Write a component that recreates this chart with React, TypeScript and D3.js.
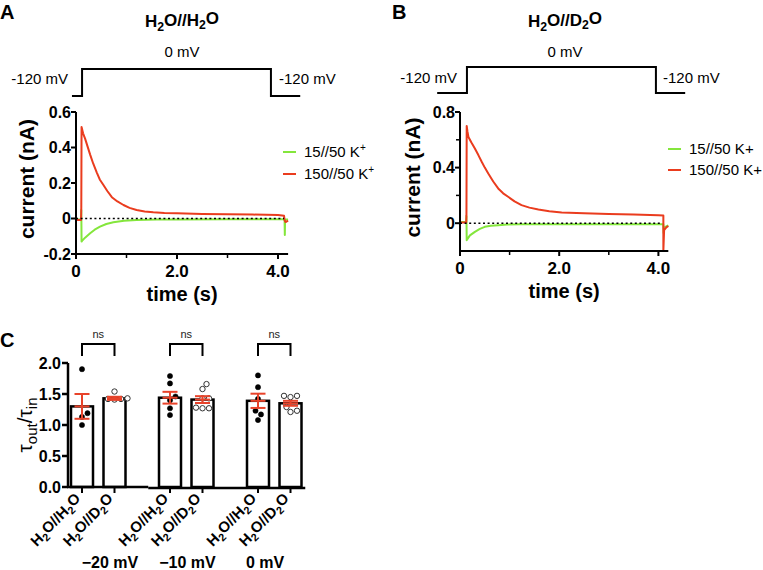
import React from 'react';
import * as d3 from 'd3';

const FONT = "'Liberation Sans', Arial, Helvetica, sans-serif";
const RED = '#ea3c1e';
const GREEN = '#84e63c';
const ERR_RED = '#e8432a';

// ---------- Panel A data (time s, current nA) ----------
const timeA_red = [0, 0.1, 0.105, 0.11, 0.14, 0.18, 0.23, 0.28, 0.34, 0.41, 0.47, 0.54, 0.62, 0.71, 0.82, 0.94, 1.06, 1.2, 1.36, 1.53, 1.75, 2.0, 2.5, 3.0, 3.5, 4.0, 4.12, 4.13, 4.15, 4.2];
const currA_red = [-0.008, -0.008, 0.06, 0.515, 0.48, 0.45, 0.405, 0.36, 0.31, 0.26, 0.22, 0.19, 0.155, 0.12, 0.096, 0.076, 0.06, 0.048, 0.04, 0.035, 0.031, 0.029, 0.026, 0.024, 0.022, 0.02, 0.015, -0.01, -0.02, -0.012];
const timeA_green = [0, 0.1, 0.105, 0.11, 0.12, 0.18, 0.28, 0.37, 0.475, 0.6, 0.74, 0.95, 1.2, 1.6, 2.0, 3.0, 4.0, 4.13, 4.135, 4.14, 4.2];
const currA_green = [-0.006, -0.006, 0.048, -0.13, -0.126, -0.108, -0.083, -0.063, -0.046, -0.031, -0.021, -0.013, -0.008, -0.006, -0.005, -0.004, -0.004, -0.004, -0.093, -0.006, -0.005];

// ---------- Panel B data ----------
const timeB_red = [0, 0.125, 0.13, 0.135, 0.15, 0.17, 0.23, 0.3, 0.37, 0.44, 0.5, 0.57, 0.67, 0.77, 0.87, 0.97, 1.1, 1.24, 1.4, 1.58, 1.8, 2.05, 2.5, 3.0, 3.5, 4.0, 4.1, 4.1, 4.115, 4.16, 4.2];
const currB_red = [0.005, 0.005, 0.058, 0.7, 0.66, 0.62, 0.58, 0.537, 0.49, 0.44, 0.4, 0.357, 0.3, 0.25, 0.215, 0.19, 0.157, 0.13, 0.112, 0.098, 0.086, 0.077, 0.071, 0.066, 0.062, 0.058, 0.056, -0.2, -0.05, -0.03, -0.02];
const timeB_green = [0, 0.125, 0.13, 0.135, 0.145, 0.2, 0.3, 0.4, 0.5, 0.62, 0.77, 0.95, 1.2, 2.0, 3.0, 4.0, 4.1, 4.105, 4.12, 4.2];
const currB_green = [0.008, 0.008, 0.05, -0.122, -0.116, -0.088, -0.062, -0.041, -0.026, -0.018, -0.014, -0.01, -0.008, -0.007, -0.007, -0.007, -0.007, -0.07, -0.03, -0.015];

// Voltage protocols (schematic time s, mV)
const protoA_time = [-0.08, 0.12, 0.12, 3.86, 3.86, 4.44];
const protoB_time = [-0.46, 0.14, 0.14, 3.95, 3.95, 4.54];
const proto_mV = [-120, -120, 0, 0, -120, -120];

// Axis ticks
const xTicksMajor = [0, 2, 4];
const xTickLabels = ['0', '2.0', '4.0'];
const xTicksMinor = [1, 3];
const yTicksA = [-0.2, 0, 0.2, 0.4, 0.6];
const yTickLabelsA = ['-0.2', '0', '0.2', '0.4', '0.6'];
const yTicksB = [0, 0.4, 0.8];
const yTickLabelsB = ['0', '0.4', '0.8'];
const yTicksMinorB = [0.2, 0.6];
const legendLabelsA = ['15//50 K', '150//50 K'];
const legendSupA = ['+', '+'];
const legendLabelsB = ['15//50 K+', '150//50 K+'];

// ---------- Panel C data ----------
const groups = ['−20 mV', '−10 mV', '0 mV'];
const conditions = ['H2O//H2O', 'H2O//D2O'];
const barMeans = [1.3, 1.43, 1.44, 1.41, 1.39, 1.35];
const barSEM = [0.2, 0.025, 0.095, 0.055, 0.115, 0.04];
const pts_m20_H2O = [1.9, 1.19, 1.13, 1.0];
const pts_m20_D2O = [1.54, 1.41, 1.42, 1.42, 1.43];
const pts_m10_H2O = [1.79, 1.67, 1.4, 1.46, 1.27, 1.16];
const pts_m10_D2O = [1.58, 1.66, 1.43, 1.43, 1.27, 1.28, 1.27];
const pts_0_H2O = [1.8, 1.61, 1.42, 1.23, 1.17, 1.08];
const pts_0_D2O = [1.47, 1.45, 1.47, 1.21, 1.23, 1.29];
const allPoints = [pts_m20_H2O, pts_m20_D2O, pts_m10_H2O, pts_m10_D2O, pts_0_H2O, pts_0_D2O];
const yTicksC = [0, 0.5, 1.0, 1.5, 2.0];
const yTickLabelsC = ['0.0', '0.5', '1.0', '1.5', '2.0'];
const sigLabels = ['ns', 'ns', 'ns'];

function H2Olabel({ second }: { second: string }) {
  return (
    <>
      <tspan>H</tspan>
      <tspan fontSize="0.72em" dy="0.3em">2</tspan>
      <tspan dy="-0.3em">O//{second}</tspan>
      <tspan fontSize="0.72em" dy="0.3em">2</tspan>
      <tspan dy="-0.3em">O</tspan>
    </>
  );
}

type TraceProps = {
  x0: number; x1: number; yTop: number; yBot: number; yDomain: [number, number];
  series: { t: number[]; v: number[]; color: string }[];
  yTicks: number[]; yTickLabels: string[]; yMinor: number[];
  zeroEnd: number;
  proto: { t: number[]; yLow: number; yHigh: number };
  title: string; titleX: number;
  leftLabelX: number; rightLabelX: number; protoLabelY: number;
  legendX: number; legendY: number[]; legend: string[]; legendSup: string[] | null;
  letter: string; letterX: number; yLabelX: number;
};

function TracePanel(p: TraceProps) {
  const x = d3.scaleLinear().domain([0, 4.2]).range([p.x0, p.x1]);
  const y = d3.scaleLinear().domain(p.yDomain).range([p.yBot, p.yTop]);
  const vy = d3.scaleLinear().domain([-120, 0]).range([p.proto.yLow, p.proto.yHigh]);
  const line = d3.line<[number, number]>().x((d) => x(d[0])).y((d) => y(d[1]));
  const protoLine = d3.line<[number, number]>().x((d) => x(d[0])).y((d) => vy(d[1]));
  const protoPts = p.proto.t.map((t, i) => [t, proto_mV[i]] as [number, number]);
  return (
    <g fontFamily={FONT}>
      <text x={p.letterX} y={19} fontSize={20} fontWeight="bold">{p.letter}</text>
      <text x={p.titleX} y={27} fontSize={17} fontWeight="bold" textAnchor="middle">
        <H2Olabel second={p.title} />
      </text>
      <text x={p.titleX} y={57} fontSize={15} textAnchor="middle">0 mV</text>
      <path d={protoLine(protoPts) || ''} fill="none" stroke="#000" strokeWidth={2} />
      <text x={p.leftLabelX} y={p.protoLabelY} fontSize={15} textAnchor="end">-120 mV</text>
      <text x={p.rightLabelX} y={p.protoLabelY} fontSize={15}>-120 mV</text>
      {p.series.map((s, i) => (
        <path key={i} d={line(s.t.map((t, j) => [t, s.v[j]] as [number, number])) || ''}
          fill="none" stroke={s.color} strokeWidth={2} strokeLinejoin="round" />
      ))}
      <line x1={x(0)} x2={x(p.zeroEnd)} y1={y(0)} y2={y(0)} stroke="#000" strokeWidth={1.6} strokeDasharray="2 2.6" />
      <line x1={x(0)} x2={x(0)} y1={p.yTop} y2={p.yBot + 1} stroke="#000" strokeWidth={2} />
      <line x1={x(0) - 1} x2={x(4.2)} y1={p.yBot} y2={p.yBot} stroke="#000" strokeWidth={2} />
      {p.yTicks.map((t, i) => (
        <g key={'yt' + i}>
          <line x1={x(0) - 5} x2={x(0)} y1={y(t)} y2={y(t)} stroke="#000" strokeWidth={2} />
          <text x={x(0) - 5} y={y(t) + 5.5} fontSize={16} fontWeight="bold" textAnchor="end">{p.yTickLabels[i]}</text>
        </g>
      ))}
      {p.yMinor.map((t, i) => (
        <line key={'ym' + i} x1={x(0) - 4} x2={x(0)} y1={y(t)} y2={y(t)} stroke="#000" strokeWidth={1.5} />
      ))}
      {xTicksMajor.map((t, i) => (
        <g key={'xt' + i}>
          <line x1={x(t)} x2={x(t)} y1={p.yBot} y2={p.yBot + 5} stroke="#000" strokeWidth={2} />
          <text x={x(t)} y={p.yBot + 23} fontSize={17} fontWeight="bold" textAnchor="middle">{xTickLabels[i]}</text>
        </g>
      ))}
      {xTicksMinor.map((t, i) => (
        <line key={'xm' + i} x1={x(t)} x2={x(t)} y1={p.yBot} y2={p.yBot + 4} stroke="#000" strokeWidth={1.5} />
      ))}
      <text x={(x(0) + x(4.2)) / 2} y={p.yBot + 47} fontSize={20} fontWeight="bold" textAnchor="middle">time (s)</text>
      <text transform={`translate(${p.yLabelX},${(p.yTop + p.yBot) / 2 - 4}) rotate(-90)`} fontSize={21} fontWeight="bold" textAnchor="middle">current (nA)</text>
      {p.series.map((s, i) => (
        <g key={'lg' + i}>
          <line x1={p.legendX} x2={p.legendX + 13} y1={p.legendY[i]} y2={p.legendY[i]} stroke={s.color} strokeWidth={2} />
          <text x={p.legendX + 21} y={p.legendY[i] + 5} fontSize={15}>
            {p.legend[i]}
            {p.legendSup && <tspan fontSize={10} dy={-6}>{p.legendSup[i]}</tspan>}
          </text>
        </g>
      ))}
    </g>
  );
}

function swarm(values: number[], y: (v: number) => number, r: number): number[] {
  const placed: { x: number; y: number }[] = [];
  const order = values.map((_, i) => i).sort((a, b) => values[a] - values[b]);
  const offsets = new Array(values.length).fill(0);
  const minD = 2 * r + 1.3;
  for (const i of order) {
    const yi = y(values[i]);
    let best = 0;
    for (let k = 0; k < 400; k++) {
      const cand = k === 0 ? 0 : (k % 2 === 1 ? 1 : -1) * Math.ceil(k / 2) * 0.5;
      if (placed.every((q) => Math.hypot(q.x - cand, q.y - yi) >= minD)) { best = cand; break; }
    }
    placed.push({ x: best, y: yi });
    offsets[i] = best;
  }
  return offsets;
}

function PanelC() {
  const y = d3.scaleLinear().domain([0, 2]).range([487, 363]);
  const gx = d3.scalePoint<string>().domain(groups).range([98.25, 274.25]);
  const sub = d3.scalePoint<string>().domain(conditions).range([-16.25, 16.25]);
  const labelX = d3.scalePoint<string>().domain(groups).range([110, 265]);
  const bars = groups.flatMap((g, gi) => conditions.map((c, ci) => ({ g, c, i: gi * 2 + ci, cx: (gx(g) as number) + (sub(c) as number) })));
  const bw = 22;
  const r = 2.5;
  return (
    <g fontFamily={FONT}>
      <text x={0} y={347} fontSize={20} fontWeight="bold">C</text>
      {bars.map((b) => (
        <rect key={'b' + b.i} x={b.cx - bw / 2} y={y(barMeans[b.i])} width={bw} height={y(0) - y(barMeans[b.i])}
          fill="#fff" stroke="#000" strokeWidth={2.5} />
      ))}
      {bars.map((b) => {
        const vals = allPoints[b.i];
        const off = swarm(vals, y, r);
        const open = b.c === conditions[1];
        return vals.map((v, j) => (
          <circle key={'p' + b.i + '-' + j} cx={b.cx + off[j]} cy={y(v)} r={open ? 2.7 : 2.6}
            fill={open ? '#fff' : '#000'} stroke={open ? '#333' : '#000'} strokeWidth={open ? 1 : 0.5} />
        ));
      })}
      {bars.map((b) => {
        const m = barMeans[b.i], e = barSEM[b.i];
        return (
          <g key={'e' + b.i} stroke={ERR_RED} strokeWidth={2}>
            <line x1={b.cx} x2={b.cx} y1={y(m + e)} y2={y(m - e)} />
            <line x1={b.cx - 7.5} x2={b.cx + 7.5} y1={y(m + e)} y2={y(m + e)} />
            <line x1={b.cx - 7.5} x2={b.cx + 7.5} y1={y(m - e)} y2={y(m - e)} />
            <line x1={b.cx - 7.5} x2={b.cx + 7.5} y1={y(m)} y2={y(m)} />
          </g>
        );
      })}
      <line x1={68} x2={68} y1={y(2)} y2={y(0) + 1} stroke="#000" strokeWidth={2.5} />
      <line x1={67} x2={(gx(groups[0]) as number) + 50} y1={y(0)} y2={y(0)} stroke="#000" strokeWidth={2.5} />
      <line x1={(gx(groups[0]) as number) + 50} x2={(gx(groups[2]) as number) + 31} y1={y(0) + 1} y2={y(0) + 1} stroke="#000" strokeWidth={2.5} />
      {yTicksC.map((t, i) => (
        <g key={'cy' + i}>
          <line x1={62} x2={68} y1={y(t)} y2={y(t)} stroke="#000" strokeWidth={2.5} />
          <text x={61} y={y(t) + 6} fontSize={16} fontWeight="bold" textAnchor="end">{yTickLabelsC[i]}</text>
        </g>
      ))}
      <text transform={`translate(32,425) rotate(-90)`} fontSize={21} textAnchor="middle">
        <tspan>τ</tspan>
        <tspan fontSize={15} dy={5}>out</tspan>
        <tspan dy={-5}>/τ</tspan>
        <tspan fontSize={15} dy={5}>in</tspan>
      </text>
      {bars.map((b) => (
        <g key={'xl' + b.i}>
          <line x1={b.cx} x2={b.cx} y1={y(0)} y2={y(0) + 6} stroke="#000" strokeWidth={2} />
          <text transform={`translate(${b.cx + 1},${y(0) + 14}) rotate(-45)`} fontSize={15} fontWeight="bold" textAnchor="end">
            <H2Olabel second={b.c === conditions[0] ? 'H' : 'D'} />
          </text>
        </g>
      ))}
      {groups.map((g) => (
        <text key={'gl' + g} x={labelX(g)} y={568} fontSize={16} fontWeight="bold" textAnchor="middle">{g}</text>
      ))}
      {groups.map((g, gi) => {
        const a = (gx(g) as number) + (sub(conditions[0]) as number);
        const c = (gx(g) as number) + (sub(conditions[1]) as number);
        return (
          <g key={'s' + g}>
            <path d={`M${a},356V344H${c}V356`} fill="none" stroke="#000" strokeWidth={2} />
            <text x={(a + c) / 2} y={338} fontSize={11} textAnchor="middle" fill="#222">{sigLabels[gi]}</text>
          </g>
        );
      })}
    </g>
  );
}

export default function App() {
  return (
    <svg width={763} height={570} style={{ position: 'absolute', left: 0, top: 0, background: '#fff' }}>
      <rect width={763} height={570} fill="#fff" />
      <TracePanel
        x0={76} x1={76 + 4.2 * 50.5} yTop={112} yBot={254} yDomain={[-0.2, 0.6]}
        series={[{ t: timeA_green, v: currA_green, color: GREEN }, { t: timeA_red, v: currA_red, color: RED }]}
        yTicks={yTicksA} yTickLabels={yTickLabelsA} yMinor={[]} zeroEnd={4.12}
        proto={{ t: protoA_time, yLow: 96, yHigh: 69 }}
        title="H" titleX={182} leftLabelX={68} rightLabelX={279} protoLabelY={84}
        legendX={283} legendY={[152, 174]} legend={legendLabelsA} legendSup={legendSupA}
        letter="A" letterX={0} yLabelX={34}
      />
      <TracePanel
        x0={460} x1={460 + 4.2 * 49.6} yTop={112} yBot={251} yDomain={[-0.2, 0.8]}
        series={[{ t: timeB_green, v: currB_green, color: GREEN }, { t: timeB_red, v: currB_red, color: RED }]}
        yTicks={yTicksB} yTickLabels={yTickLabelsB} yMinor={yTicksMinorB} zeroEnd={4.08}
        proto={{ t: protoB_time, yLow: 93, yHigh: 67 }}
        title="D" titleX={565} leftLabelX={457} rightLabelX={663} protoLabelY={83}
        legendX={668} legendY={[149, 170]} legend={legendLabelsB} legendSup={null}
        letter="B" letterX={392} yLabelX={420}
      />
      <PanelC />
    </svg>
  );
}
